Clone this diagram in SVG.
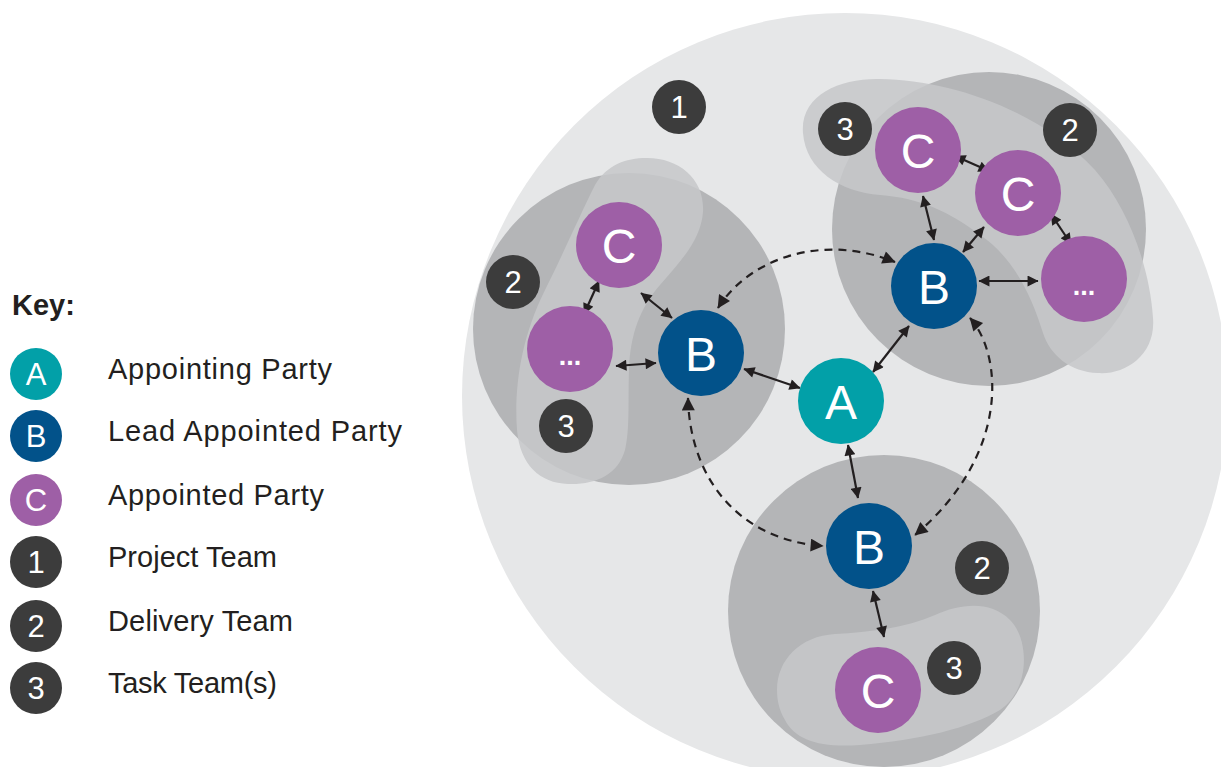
<svg xmlns="http://www.w3.org/2000/svg" width="1221" height="767" viewBox="0 0 1221 767">
  <style>
    .team1 { fill: #e6e7e8; }
    .team2 { fill: #b4b5b7; }
    .team3 { fill: #c6c7c9; opacity: 0.86; }
    .nodeA { fill: #02a0a8; }
    .nodeB { fill: #02528a; }
    .nodeC { fill: #9e5fa6; }
    .badge { fill: #3c3c3c; }
    .lbl { font-family: "Liberation Sans", Arial, sans-serif; fill: #ffffff; text-anchor: middle; }
    .big { font-size: 48px; }
    .num { font-size: 31px; }
    .dots { font-size: 27px; font-weight: bold; }
    .keytxt { font-family: "Liberation Sans", Arial, sans-serif; font-size: 29px; fill: #231f20; }
    .conn { stroke: #231f20; stroke-width: 2.2; fill: none; marker-start: url(#ah); marker-end: url(#ah); }
    .dash { stroke: #231f20; stroke-width: 2.2; fill: none; stroke-dasharray: 8 6; marker-start: url(#ahd); marker-end: url(#ahd); }
  </style>
  <defs>
    <marker id="ah" viewBox="0 0 10 10" refX="9.5" refY="5" markerWidth="13" markerHeight="11" markerUnits="userSpaceOnUse" orient="auto-start-reverse">
      <path d="M0,0 L10,5 L0,10 z" fill="#231f20"/>
    </marker>
    <marker id="ahd" viewBox="0 0 10 10" refX="9.5" refY="5" markerWidth="15" markerHeight="13" markerUnits="userSpaceOnUse" orient="auto-start-reverse">
      <path d="M0,0 L10,5 L0,10 z" fill="#231f20"/>
    </marker>
  </defs>

  <!-- Project team -->
  <g id="project-team">
    <circle class="team1" cx="845" cy="396" r="383"/>
  </g>

  <!-- Delivery teams -->
  <g id="delivery-team-left">
    <circle class="team2" cx="629" cy="329" r="156"/>
  </g>
  <g id="delivery-team-right">
    <circle class="team2" cx="989" cy="229" r="157"/>
  </g>
  <g id="delivery-team-bottom">
    <circle class="team2" cx="884" cy="611" r="156"/>
  </g>

  <!-- Task teams -->
  <g id="task-team-left">
    <path class="team3" d="M647,158 C680,158 705,180 703,212 C701,240 680,262 660,285 C640,308 630,335 629,370 C628,400 630,430 625,450 C618,475 595,485 568,484 C540,483 520,465 517,430 C514,390 520,340 545,290 C565,250 580,215 595,185 C607,165 625,158 647,158 Z"/>
  </g>
  <g id="task-team-right">
    <path class="team3" d="M803,133 C800,95 840,78 880,79 C950,80 1040,110 1095,170 C1130,210 1150,270 1153,318 C1156,355 1125,375 1098,373 C1070,372 1050,355 1043,333 C1030,290 1010,255 980,235 C950,212 920,198 880,195 C840,192 806,170 803,133 Z"/>
  </g>
  <g id="task-team-bottom">
    <path class="team3" d="M777,690 C777,660 800,636 835,634 C870,632 905,628 935,615 C960,604 990,600 1010,620 C1030,640 1030,690 1000,710 C970,728 920,740 860,745 C820,748 795,740 785,720 C779,710 777,700 777,690 Z"/>
  </g>

  <!-- Connectors -->
  <g id="connectors">
    <path class="dash" d="M718,308 C748,260 820,232 895,262"/>
    <path class="dash" d="M970,318 C1003,355 1010,455 915,535"/>
    <path class="dash" d="M688,398 C690,480 740,540 823,546"/>
    <line class="conn" x1="599" y1="281" x2="584" y2="314"/>
    <line class="conn" x1="641" y1="293" x2="672" y2="318"/>
    <line class="conn" x1="616" y1="366" x2="656" y2="363"/>
    <line class="conn" x1="744" y1="369" x2="800" y2="388"/>
    <line class="conn" x1="955" y1="156" x2="989" y2="171"/>
    <line class="conn" x1="923" y1="196" x2="934" y2="240"/>
    <line class="conn" x1="984" y1="227" x2="963" y2="252"/>
    <line class="conn" x1="1051" y1="214" x2="1071" y2="244"/>
    <line class="conn" x1="979" y1="281" x2="1038" y2="281"/>
    <line class="conn" x1="909" y1="326" x2="873" y2="372"/>
    <line class="conn" x1="848" y1="445" x2="858" y2="498"/>
    <line class="conn" x1="873" y1="591" x2="884" y2="637"/>
  </g>

  <!-- Badges -->
  <g id="badge-1"><circle class="badge" cx="679" cy="107" r="27"/><text class="lbl num" x="679" y="118">1</text></g>
  <g id="badge-2-left"><circle class="badge" cx="513" cy="282" r="27"/><text class="lbl num" x="513" y="293">2</text></g>
  <g id="badge-3-left"><circle class="badge" cx="566" cy="426" r="27"/><text class="lbl num" x="566" y="437">3</text></g>
  <g id="badge-3-right"><circle class="badge" cx="845" cy="129" r="27"/><text class="lbl num" x="845" y="140">3</text></g>
  <g id="badge-2-right"><circle class="badge" cx="1070" cy="130" r="27"/><text class="lbl num" x="1070" y="141">2</text></g>
  <g id="badge-2-bottom"><circle class="badge" cx="982" cy="568" r="27"/><text class="lbl num" x="982" y="579">2</text></g>
  <g id="badge-3-bottom"><circle class="badge" cx="954" cy="668" r="27"/><text class="lbl num" x="954" y="679">3</text></g>

  <!-- Parties -->
  <g id="node-A"><circle class="nodeA" cx="841" cy="401" r="43"/><text class="lbl big" x="841" y="419">A</text></g>
  <g id="node-B-left"><circle class="nodeB" cx="701" cy="353" r="43"/><text class="lbl big" x="701" y="371">B</text></g>
  <g id="node-C-left"><circle class="nodeC" cx="619" cy="245" r="43"/><text class="lbl big" x="619" y="263">C</text></g>
  <g id="node-more-left"><circle class="nodeC" cx="570" cy="349" r="43"/><text class="lbl dots" x="570" y="365">...</text></g>
  <g id="node-B-right"><circle class="nodeB" cx="934" cy="286" r="43"/><text class="lbl big" x="934" y="304">B</text></g>
  <g id="node-C1-right"><circle class="nodeC" cx="918" cy="150" r="43"/><text class="lbl big" x="918" y="168">C</text></g>
  <g id="node-C2-right"><circle class="nodeC" cx="1018" cy="193" r="43"/><text class="lbl big" x="1018" y="211">C</text></g>
  <g id="node-more-right"><circle class="nodeC" cx="1084" cy="279" r="43"/><text class="lbl dots" x="1084" y="295">...</text></g>
  <g id="node-B-bottom"><circle class="nodeB" cx="869" cy="546" r="43"/><text class="lbl big" x="869" y="564">B</text></g>
  <g id="node-C-bottom"><circle class="nodeC" cx="878" cy="690" r="43"/><text class="lbl big" x="878" y="708">C</text></g>

  <!-- Key -->
  <g id="key">
    <text class="keytxt" x="12" y="315" font-weight="bold">Key:</text>
    <g id="key-A"><circle class="nodeA" cx="36" cy="374" r="26"/><text class="lbl num" x="36" y="385">A</text><text class="keytxt" x="108" y="379" textLength="224" lengthAdjust="spacing">Appointing Party</text></g>
    <g id="key-B"><circle class="nodeB" cx="36" cy="436" r="26"/><text class="lbl num" x="36" y="447">B</text><text class="keytxt" x="108" y="441" textLength="294" lengthAdjust="spacing">Lead Appointed Party</text></g>
    <g id="key-C"><circle class="nodeC" cx="36" cy="500" r="26"/><text class="lbl num" x="36" y="511">C</text><text class="keytxt" x="108" y="505" textLength="216" lengthAdjust="spacing">Appointed Party</text></g>
    <g id="key-1"><circle class="badge" cx="36" cy="562" r="26"/><text class="lbl num" x="36" y="573">1</text><text class="keytxt" x="108" y="567" textLength="169" lengthAdjust="spacing">Project Team</text></g>
    <g id="key-2"><circle class="badge" cx="36" cy="626" r="26"/><text class="lbl num" x="36" y="637">2</text><text class="keytxt" x="108" y="631" textLength="185" lengthAdjust="spacing">Delivery Team</text></g>
    <g id="key-3"><circle class="badge" cx="36" cy="688" r="26"/><text class="lbl num" x="36" y="699">3</text><text class="keytxt" x="108" y="693" textLength="169" lengthAdjust="spacing">Task Team(s)</text></g>
  </g>
</svg>
